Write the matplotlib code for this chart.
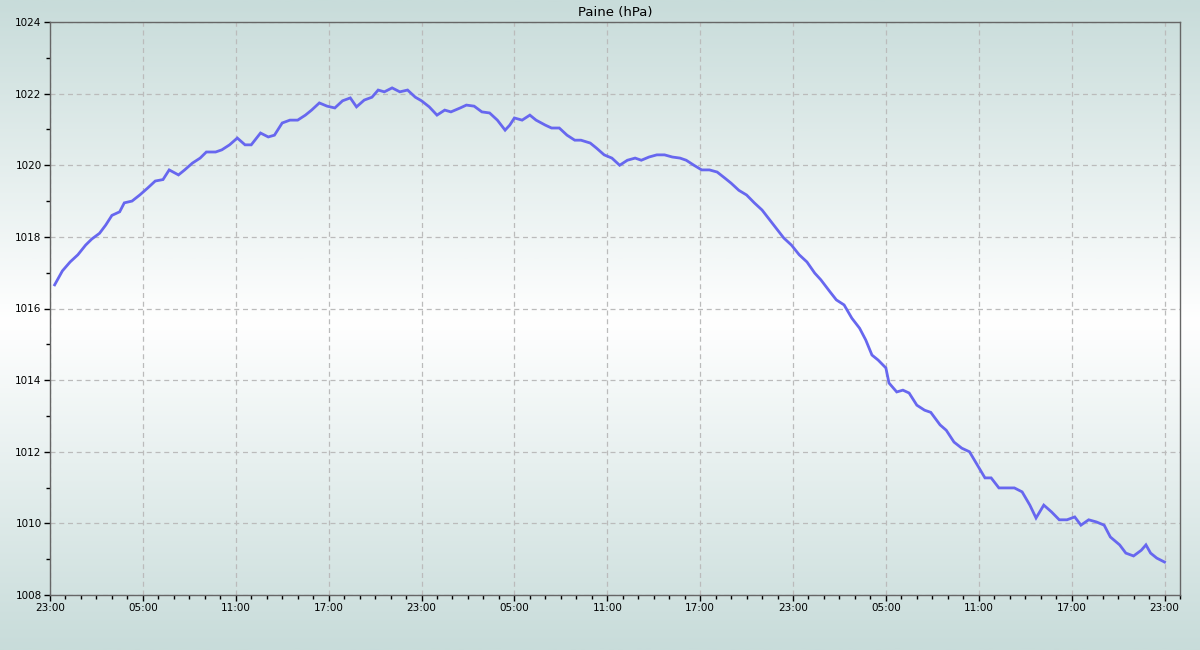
import numpy as np
import matplotlib
matplotlib.use("Agg")
import matplotlib.pyplot as plt
from matplotlib.colors import LinearSegmentedColormap
from matplotlib.ticker import FixedLocator, MultipleLocator, FuncFormatter

# hours since 23:00 of the first day
hours = [0.3, 0.8, 1.3, 1.8, 2.3, 2.7, 3.2, 3.6, 4.0, 4.5, 4.8, 5.3, 5.8, 6.3, 6.8, 7.3,
         7.7, 8.3, 8.7, 9.2, 9.7, 10.1, 10.7, 11.1, 11.6, 12.1, 12.6, 13.0, 13.6, 14.1,
         14.5, 15.0, 15.5, 16.0, 16.5, 16.9, 17.4, 17.9, 18.4, 18.9, 19.4, 19.8, 20.3,
         20.8, 21.2, 21.6, 22.1, 22.6, 23.1, 23.6, 24.0, 24.5, 25.0, 25.5, 25.9, 26.5,
         26.9, 27.4, 27.9, 28.4, 28.9, 29.4, 29.7, 30.0, 30.5, 31.0, 31.4, 32.0, 32.4,
         32.9, 33.4, 33.9, 34.3, 34.9, 35.3, 35.8, 36.3, 36.8, 37.3, 37.8, 38.2, 38.7,
         39.2, 39.7, 40.2, 40.7, 41.1, 41.6, 42.1, 42.6, 43.1, 43.6, 44.0, 44.5, 45.0,
         45.5, 46.0, 46.5, 46.9, 47.4, 47.9, 48.4, 48.9, 49.4, 49.8, 50.4, 50.8, 51.3,
         51.8, 52.3, 52.7, 53.1, 53.5, 54.0, 54.2, 54.7, 55.1, 55.5, 56.0, 56.5, 56.9,
         57.5, 57.9, 58.4, 58.9, 59.4, 59.8, 60.4, 60.8, 61.3, 61.8, 62.3, 62.8, 63.3,
         63.7, 64.2, 64.7, 65.2, 65.7, 66.2, 66.6, 67.1, 67.6, 68.1, 68.5, 69.1, 69.5,
         70.0, 70.5, 70.8, 71.1, 71.5, 72.0]
pressure = [1016.66, 1017.05, 1017.3, 1017.5, 1017.77, 1017.94, 1018.1, 1018.33, 1018.6,
            1018.7, 1018.95, 1019.0, 1019.17, 1019.36, 1019.56, 1019.6, 1019.87, 1019.73,
            1019.87, 1020.06, 1020.2, 1020.37, 1020.37, 1020.43, 1020.57, 1020.76, 1020.57,
            1020.57, 1020.9, 1020.79, 1020.84, 1021.18, 1021.26, 1021.26, 1021.4, 1021.54,
            1021.74, 1021.65, 1021.6, 1021.8, 1021.88, 1021.63, 1021.82, 1021.9, 1022.1,
            1022.05, 1022.16, 1022.05, 1022.1, 1021.9, 1021.8, 1021.63, 1021.4, 1021.54,
            1021.49, 1021.6, 1021.68, 1021.65, 1021.49, 1021.46, 1021.26, 1020.98, 1021.12,
            1021.32, 1021.26, 1021.4, 1021.26, 1021.12, 1021.04, 1021.04, 1020.84, 1020.7,
            1020.7, 1020.62, 1020.48, 1020.29, 1020.2, 1020.0, 1020.14, 1020.2, 1020.14,
            1020.23, 1020.29, 1020.29, 1020.23, 1020.2, 1020.14, 1020.0, 1019.87, 1019.87,
            1019.81, 1019.64, 1019.5, 1019.3, 1019.17, 1018.95, 1018.75, 1018.47, 1018.25,
            1017.97, 1017.77, 1017.5, 1017.3, 1016.99, 1016.8, 1016.46, 1016.24, 1016.1,
            1015.73, 1015.45, 1015.12, 1014.7, 1014.56, 1014.34, 1013.92, 1013.67, 1013.72,
            1013.64, 1013.3, 1013.16, 1013.1, 1012.75, 1012.6, 1012.27, 1012.1, 1012.0,
            1011.71, 1011.27, 1011.27, 1010.99, 1010.99, 1010.99, 1010.88, 1010.51, 1010.15,
            1010.51, 1010.32, 1010.1, 1010.1, 1010.18, 1009.95, 1010.1, 1010.04, 1009.95,
            1009.62, 1009.4, 1009.17, 1009.09, 1009.25, 1009.4, 1009.17, 1009.03, 1008.92]

major_hours = [0, 6, 12, 18, 24, 30, 36, 42, 48, 54, 60, 66, 72]
start_hour = 23

fig = plt.figure(figsize=(12, 6.5), dpi=100)

# background gradient over whole figure
bg = fig.add_axes([0, 0, 1, 1], zorder=-10)
cmap = LinearSegmentedColormap.from_list("bg", ["#c8dcda", "#ffffff", "#c8dcda"])
t = np.linspace(0, 1, 400)
center = 1 - 322 / 650
vals = np.where(t < center, 0.5 * t / center, 0.5 + 0.5 * (t - center) / (1 - center))
bg.imshow(vals.reshape(-1, 1)[::-1], aspect="auto", cmap=cmap, extent=[0, 1, 0, 1],
          vmin=0, vmax=1)
bg.axis("off")

ax = fig.add_axes([50 / 1200, 1 - 595 / 650, 1130 / 1200, 573 / 650])
ax.patch.set_alpha(0)

ax.plot(hours, pressure, color="#6767ef", lw=2.0, solid_joinstyle="miter")

ax.set_xlim(0, 73)
ax.set_ylim(1008, 1024)
ax.xaxis.set_major_locator(FixedLocator(major_hours))
ax.xaxis.set_minor_locator(MultipleLocator(1))
ax.xaxis.set_major_formatter(FuncFormatter(lambda v, p: f"{int((start_hour + v) % 24):02d}:00"))
ax.yaxis.set_major_locator(MultipleLocator(2))
ax.yaxis.set_minor_locator(MultipleLocator(1))
ax.yaxis.set_major_formatter(FuncFormatter(lambda v, p: f"{int(v)}"))

ax.grid(True, which="major", color="#bbbbbb", linestyle=(0, (4, 3)), lw=0.9)
for s in ax.spines.values():
    s.set_color("#666666")
    s.set_linewidth(1.0)
ax.tick_params(which="major", length=4, width=1, labelsize=7.5, colors="black", pad=2)
ax.tick_params(which="minor", length=3, width=1, colors="black")

ax.set_title("Paine (hPa)", fontsize=9.5, pad=4)

fig.savefig("out.png", dpi=100)
